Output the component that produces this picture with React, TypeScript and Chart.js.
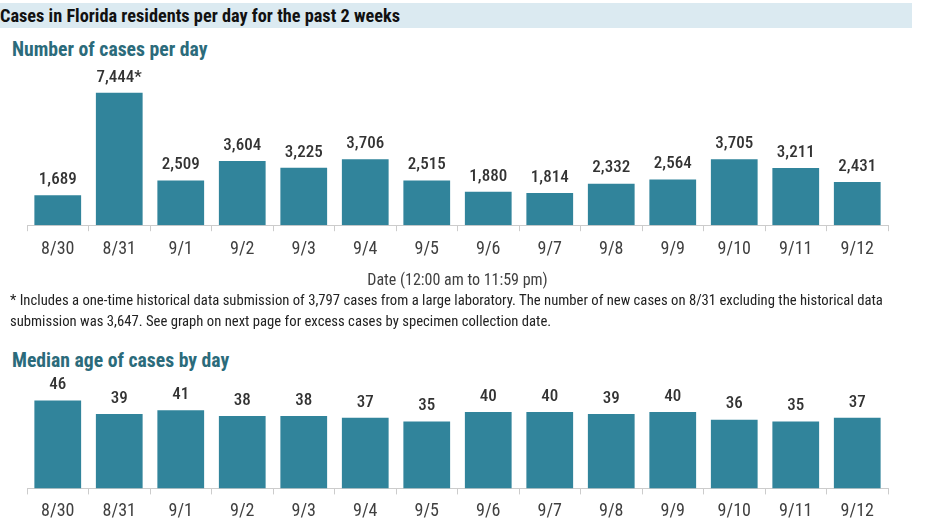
import React, { useEffect, useRef } from "react";
import { Chart, registerables } from "chart.js";

Chart.register(...registerables);

const dates = ["8/30", "8/31", "9/1", "9/2", "9/3", "9/4", "9/5", "9/6", "9/7", "9/8", "9/9", "9/10", "9/11", "9/12"];
const casesPerDay = [1689, 7444, 2509, 3604, 3225, 3706, 2515, 1880, 1814, 2332, 2564, 3705, 3211, 2431];
const caseNotes = ["", "*", "", "", "", "", "", "", "", "", "", "", "", ""];
const medianAge = [46, 39, 41, 38, 38, 37, 35, 40, 40, 39, 40, 36, 35, 37];

const FONT = '"Roboto Condensed", Roboto, "Liberation Sans", sans-serif';
const BAR = "#31849b";
const TEAL = "#2b6b7b";

const valueLabels = (fmt: (v: number, i: number) => string) => ({
  id: "valueLabels",
  afterDatasetsDraw(chart: any) {
    const ctx = chart.ctx;
    const meta = chart.getDatasetMeta(0);
    const data = chart.data.datasets[0].data as number[];
    ctx.save();
    ctx.font = `500 17px ${FONT}`;
    ctx.fillStyle = "#333333";
    ctx.textAlign = "center";
    ctx.textBaseline = "bottom";
    meta.data.forEach((el: any, i: number) => {
      ctx.fillText(fmt(data[i], i), el.x, el.y - 7);
    });
    ctx.restore();
  },
});

function BarChart(props: {
  values: number[];
  max: number;
  fmt: (v: number, i: number) => string;
  xTitle?: string;
  tickPad: number;
  height: number;
}) {
  const ref = useRef<HTMLCanvasElement>(null);
  useEffect(() => {
    if (!ref.current) return;
    const chart = new Chart(ref.current, {
      type: "bar",
      data: {
        labels: dates,
        datasets: [
          {
            data: props.values,
            backgroundColor: BAR,
            borderWidth: 0,
            categoryPercentage: 1,
            barPercentage: 0.76,
          },
        ],
      },
      options: {
        animation: false,
        responsive: false,
        maintainAspectRatio: false,
        layout: { padding: { left: 27, right: 24, top: 0, bottom: 0 } },
        plugins: { legend: { display: false }, tooltip: { enabled: false } },
        scales: {
          y: { display: false, min: 0, max: props.max },
          x: {
            offset: true,
            grid: {
              offset: true,
              drawOnChartArea: false,
              drawTicks: true,
              tickLength: 6,
              color: "#cccccc",
            },
            border: { color: "#cccccc" },
            ticks: {
              color: "#404040",
              padding: props.tickPad,
              font: { family: FONT, size: 18 },
              maxRotation: 0,
              autoSkip: false,
            },
            title: props.xTitle
              ? {
                  display: true,
                  text: props.xTitle,
                  color: "#404040",
                  font: { family: FONT, size: 16 },
                  padding: { top: 5, bottom: 4 },
                }
              : { display: false },
          },
        },
      },
      plugins: [valueLabels(props.fmt)],
    });
    return () => chart.destroy();
  }, []);
  return <canvas ref={ref} width={912} height={props.height} style={{ width: 912, height: props.height, display: "block" }} />;
}

export default function App() {
  return (
    <div
      style={{
        position: "absolute",
        left: 0,
        top: 0,
        width: 932,
        height: 524,
        background: "#ffffff",
        fontFamily: FONT,
        overflow: "hidden",
      }}
    >
      <div
        style={{
          position: "absolute",
          left: 0,
          top: 3,
          width: 912,
          height: 25,
          lineHeight: "25px",
          background: "#dbeaf1",
          color: "#111111",
          fontWeight: "bold",
          fontSize: 18.3,
        }}
      >
        Cases in Florida residents per day for the past 2 weeks
      </div>
      <div style={{ position: "absolute", left: 12, top: 38, fontSize: 19.7, lineHeight: "24px", fontWeight: "bold", color: TEAL }}>
        Number of cases per day
      </div>
      <div style={{ position: "absolute", left: 0, top: 58 }}>
        <BarChart
          values={casesPerDay}
          max={9400}
          fmt={(v, i) => v.toLocaleString("en-US") + caseNotes[i]}
          xTitle="Date (12:00 am to 11:59 pm)"
          tickPad={7}
          height={237}
        />
      </div>
      <div style={{ position: "absolute", left: 10, top: 290, width: 910, fontSize: 14.7, lineHeight: "21px", color: "#222222", whiteSpace: "nowrap" }}>
        * Includes a one-time historical data submission of 3,797 cases from a large laboratory. The number of new cases on 8/31 excluding the historical data
        <br />
        submission was 3,647. See graph on next page for excess cases by specimen collection date.
      </div>
      <div style={{ position: "absolute", left: 12, top: 349, fontSize: 19.7, lineHeight: "24px", fontWeight: "bold", color: TEAL }}>
        Median age of cases by day
      </div>
      <div style={{ position: "absolute", left: 0, top: 372 }}>
        <BarChart values={medianAge} max={61} fmt={(v) => String(v)} tickPad={6} height={156} />
      </div>
    </div>
  );
}
